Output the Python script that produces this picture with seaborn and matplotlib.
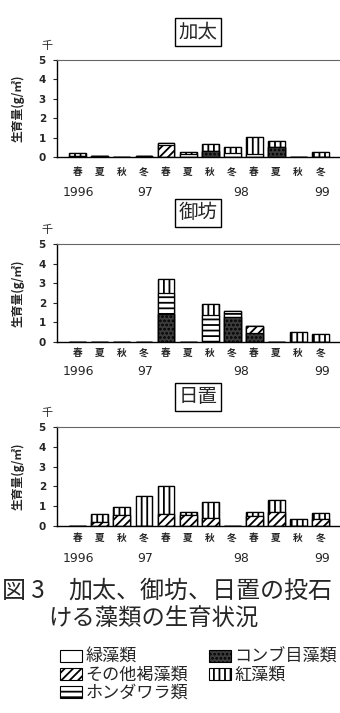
import matplotlib
matplotlib.use("Agg")
import matplotlib.pyplot as plt
import seaborn as sns
import numpy as np
from matplotlib.patches import Patch

sns.set_theme(style="white")
plt.rcParams['font.family'] = ['Noto Sans CJK JP', 'DejaVu Sans']
plt.rcParams['hatch.linewidth'] = 1.3

# ---------------- data (thousand g/m2) ----------------
seasons = ["春", "夏", "秋", "冬", "春", "夏", "秋", "冬", "春", "夏", "秋", "冬"]
years = ["1996", "97", "98", "99"]
year_pos = [0.0, 3.05, 7.4, 11.1]
sites = ["加太", "御坊", "日置"]
groups = ["緑藻類", "その他褐藻類", "ホンダワラ類", "コンブ目藻類", "紅藻類"]

# 加太
kada_green = [0, 0, 0, 0, 0, 0, 0, 0, 0, 0, 0, 0]
kada_brown = [0.05, 0, 0, 0, 0.60, 0, 0, 0, 0, 0, 0, 0]
kada_honda = [0, 0, 0, 0, 0.12, 0.18, 0, 0.23, 0.15, 0, 0, 0]
kada_kombu = [0, 0.07, 0.02, 0.05, 0, 0, 0.32, 0, 0, 0.50, 0.02, 0]
kada_red = [0.15, 0, 0, 0, 0, 0.09, 0.35, 0.30, 0.90, 0.35, 0, 0.25]

# 御坊
gobo_green = [0, 0, 0, 0, 0, 0, 0, 0, 0, 0, 0, 0]
gobo_brown = [0, 0, 0, 0, 0, 0, 0, 0, 0.38, 0, 0, 0]
gobo_honda = [0, 0, 0, 0, 1.05, 0, 1.37, 0.28, 0, 0, 0, 0]
gobo_kombu = [0, 0, 0, 0, 1.45, 0, 0, 1.30, 0.45, 0, 0, 0]
gobo_red = [0, 0, 0, 0, 0.70, 0, 0.55, 0, 0, 0, 0.50, 0.40]

# 日置
hiki_green = [0, 0, 0, 0, 0, 0, 0, 0, 0, 0, 0, 0]
hiki_brown = [0, 0.20, 0.55, 0, 0.60, 0.55, 0.40, 0, 0.50, 0.70, 0, 0.35]
hiki_honda = [0, 0, 0, 0, 0, 0, 0, 0, 0, 0, 0, 0]
hiki_kombu = [0.02, 0, 0, 0, 0, 0, 0, 0.02, 0, 0, 0, 0]
hiki_red = [0, 0.39, 0.39, 1.53, 1.44, 0.14, 0.83, 0, 0.19, 0.60, 0.34, 0.29]

site_data = [
    [kada_kombu, kada_brown, kada_honda, kada_red, kada_green],
    [gobo_kombu, gobo_brown, gobo_honda, gobo_red, gobo_green],
    [hiki_kombu, hiki_brown, hiki_honda, hiki_red, hiki_green],
]
# stacking order bottom->top, with styles
layer_names = ["コンブ目藻類", "その他褐藻類", "ホンダワラ類", "紅藻類", "緑藻類"]
styles = {
    "緑藻類": dict(color="white", hatch=""),
    "その他褐藻類": dict(color="white", hatch="////"),
    "ホンダワラ類": dict(color="white", hatch="---"),
    "コンブ目藻類": dict(color="#3c3c3c", hatch="...."),
    "紅藻類": dict(color="white", hatch="|||"),
}

W, H = 340, 713
fig = plt.figure(figsize=(W / 100, H / 100), dpi=100)

panels = [  # (top_px, bottom_px, title_y_px, season_pad_px, year_off_px)
    (60, 157, 32, 16, 35),
    (244, 342, 213, 12, 30),
    (427, 526, 397, 13, 33),
]
x_left = 57
xpos = np.arange(12)

for si, (top, bot, ty, spad, yoff) in enumerate(panels):
    ax = fig.add_axes([x_left / W, 1 - bot / H, (W - x_left) / W, (bot - top) / H])
    layers = site_data[si]
    cums = np.cumsum(np.array(layers, dtype=float), axis=0)
    # draw from top layer down so lower layers overlay
    for li in range(len(layers) - 1, -1, -1):
        st = styles[layer_names[li]]
        sns.barplot(x=xpos, y=cums[li], color=st["color"], saturation=1,
                    width=0.77, edgecolor="black", linewidth=0.9,
                    hatch=st["hatch"], errorbar=None, ax=ax)
    ax.set_xlim(-0.95, 11.9)
    ax.set_ylim(0, 5)
    ax.set_yticks([0, 1, 2, 3, 4, 5])
    ax.set_yticklabels(["0", "1", "2", "3", "4", "5"], fontsize=7.5,
                       fontweight="bold", family="DejaVu Sans")
    ax.set_xticks(xpos)
    ax.set_xticklabels(seasons, fontsize=7, fontweight="bold")
    ax.tick_params(axis="x", length=0, pad=spad * 0.72 - 4)
    ax.tick_params(axis="y", length=3, width=0.8, direction="out", pad=5, left=True)
    ax.set_xlabel("")
    ax.set_ylabel("生育量(g/㎡)", fontsize=8.5, fontweight="bold", labelpad=10)
    for s in ["left", "bottom"]:
        ax.spines[s].set_color("black")
        ax.spines[s].set_linewidth(1.0)
    ax.spines["right"].set_visible(False)
    ax.spines["top"].set_color("#666666")
    ax.spines["top"].set_linewidth(0.8)
    for yl, yp in zip(years, year_pos):
        ax.annotate(yl, xy=(yp, 0), xycoords=("data", "axes fraction"),
                    xytext=(0, -yoff * 0.72), textcoords="offset points",
                    ha="center", va="center", fontsize=9, family="DejaVu Sans")
    ax.annotate("千", xy=(0, 1), xycoords="axes fraction", xytext=(-7, 10),
                textcoords="offset points", ha="center", va="center", fontsize=8)
    fig.text(198 / W, 1 - ty / H, sites[si], ha="center", va="center", fontsize=14,
             bbox=dict(boxstyle="square,pad=0.2", facecolor="white",
                       edgecolor="black", linewidth=1.0))

# caption
fig.text(2 / W, 1 - 591 / H, "図 3", ha="left", va="center", fontsize=17.3)
fig.text(68 / W, 1 - 591 / H, "加太、御坊、日置の投石", ha="left", va="center", fontsize=17.3)
fig.text(48 / W, 1 - 619 / H, "ける藻類の生育状況", ha="left", va="center", fontsize=16.8)

# legend
handles = []
for g in groups:
    st = styles[g]
    handles.append(Patch(facecolor=st["color"], edgecolor="black", hatch=st["hatch"],
                         linewidth=0.8, label=g))
fig.legend(handles=handles, labels=groups, ncol=2, frameon=False,
           loc="upper left", bbox_to_anchor=(60 / W, 1 - 648 / H),
           fontsize=12.3, handlelength=1.3, handleheight=0.7,
           handletextpad=0.2, columnspacing=1.2, labelspacing=0.0,
           borderpad=0, borderaxespad=0)

fig.savefig("out.png", dpi=100)
